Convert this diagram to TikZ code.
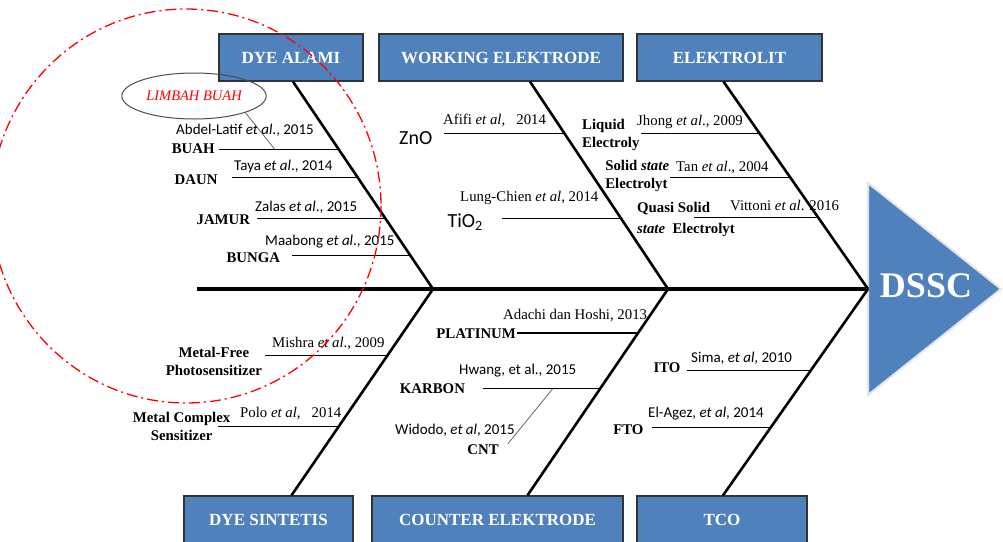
\documentclass[tikz,border=0pt]{standalone}
\usepackage{fontspec}
\setmainfont{Liberation Serif}
\newfontfamily\calib{Carlito}
\usetikzlibrary{positioning,shapes.geometric}
\definecolor{dyeblue}{RGB}{79,129,189}
\newcommand{\etal}{\textit{et al}}

\tikzset{
  catbox/.style={draw=black!80, line width=1.3pt, fill=dyeblue, text=white,
    font=\bfseries\fontsize{17}{19}\selectfont, minimum height=47pt, inner sep=0pt},
  spine/.style={line width=3.2pt},
  bone/.style={line width=2.6pt},
  twig/.style={line width=1.1pt},
  hint/.style={line width=0.8pt, black!60},
  cause/.style={font=\bfseries\fontsize{14.8}{18}\selectfont, inner sep=1pt},
  refserif/.style={font=\fontsize{14.8}{16}\selectfont, inner sep=0pt, anchor=west},
  refsans/.style={font=\calib\fontsize{15}{17}\selectfont, inner sep=0pt, anchor=west},
}

\begin{document}
\begin{tikzpicture}[x=1pt,y=-1pt]
\path[use as bounding box, fill=white] (0,0) rectangle (1003,541);
\clip (0,0) rectangle (1003,541);

% spine and head
\coordinate (tail) at (197,289);
\coordinate (j1) at (433,289);
\coordinate (j2) at (668,289);
\coordinate (head) at (868,289);
\filldraw[fill=dyeblue, draw=black!10, line width=2pt] (868,183) -- (1001,289) -- (868,395) -- cycle;
\node[text=white, font=\bfseries\fontsize{36}{40}\selectfont] (dssc) at (926,286) {DSSC};
\draw[spine] (tail) -- (head);

% categories
\node[catbox, minimum width=144pt] (alami) at (291,57.5) {DYE ALAMI};
\node[catbox, minimum width=244pt] (working) at (501,57.5) {WORKING ELEKTRODE};
\node[catbox, minimum width=185pt] (elektrolit) at (729.5,57.5) {ELEKTROLIT};
\node[catbox, minimum width=169pt] (sintetis) at (268.5,519.5) {DYE SINTETIS};
\node[catbox, minimum width=251pt] (counter) at (497.5,519.5) {COUNTER ELEKTRODE};
\node[catbox, minimum width=170pt] (tco) at (722,519.5) {TCO};

% bones
\draw[bone] ([xshift=2pt]alami.south) -- (j1)
  coordinate[pos=.327] (a1) coordinate[pos=.462] (a2)
  coordinate[pos=.659] (a3) coordinate[pos=.837] (a4);
\draw[bone] ([xshift=29pt]working.south) -- (j2)
  coordinate[pos=.25] (w1) coordinate[pos=.659] (w2);
\draw[bone] ([xshift=-6pt]elektrolit.south) -- (head)
  coordinate[pos=.25] (e1) coordinate[pos=.462] (e2) coordinate[pos=.654] (e3);
\draw[bone] ([xshift=23pt]sintetis.north) -- (j1)
  coordinate[pos=.333] (s2) coordinate[pos=.676] (s1);
\draw[bone] ([xshift=30pt]counter.north) -- (j2)
  coordinate[pos=.517] (c2) coordinate[pos=.787] (c1);
\draw[bone] ([xshift=1pt]tco.north) -- (head)
  coordinate[pos=.3285] (t2) coordinate[pos=.604] (t1);

% dye alami
\draw[twig] (a1) -- ++(-120,0) coordinate[pos=.533] (limb) coordinate (a1s);
\draw[twig] (a2) -- ++(-126,0) coordinate (a2s);
\draw[twig] (a3) -- ++(-128,0) coordinate (a3s);
\draw[twig] (a4) -- ++(-118,0) coordinate (a4s);
\node[cause, left=3pt of a1s, yshift=1pt] (buah) {BUAH};
\node[cause, left=13pt of a2s, yshift=-2pt] (daun) {DAUN};
\node[cause, left=6pt of a3s, yshift=-1pt] (jamur) {JAMUR};
\node[cause, left=11pt of a4s, yshift=-2pt] (bunga) {BUNGA};
\node[refsans] (r1) at (176,130) {Abdel-Latif \etal., 2015};
\node[refsans] (r2) at (234,166) {Taya \etal., 2014};
\node[refsans] (r3) at (255,207) {Zalas \etal., 2015};
\node[refsans] (r4) at (265,242) {Maabong \etal., 2015};
\node[ellipse, draw=black!70, line width=1pt, minimum width=138pt, minimum height=46pt,
  text=red, font=\itshape\fontsize{14.5}{16}\selectfont] (limbah) at (194,96) {LIMBAH BUAH};
\draw[hint] (limbah.south east) -- (limb);

% working elektrode
\draw[twig] (w1) -- ++(-121,0) coordinate (w1s);
\draw[twig] (w2) -- ++(-119,0) coordinate (w2s);
\node[font=\calib\fontsize{20}{22}\selectfont, inner sep=1pt, left=10pt of w1s, yshift=-5pt] (zno) {ZnO};
\node[font=\calib\fontsize{20}{22}\selectfont, inner sep=1pt, left=18pt of w2s, yshift=-4pt] (tio) {TiO\textsubscript{2}};
\node[refserif] (r5) at (443,120) {Afifi \etal,~~ 2014};
\node[refserif] (r6) at (460,198) {Lung-Chien \etal, 2014};

% elektrolit
\draw[twig] (e1) -- ++(-119,0) coordinate (e1s);
\draw[twig] (e2) -- ++(-120,0) coordinate (e2s);
\draw[twig] (e3) -- ++(-124,0) coordinate (e3s);
\node[cause, align=left, left=0pt of e1s, yshift=-1pt] (liquid) {Liquid\\Electroly};
\node[cause, align=left, left=0pt of e2s, yshift=1pt] (solid) {Solid \textit{state}\\Electrolyt};
\node[cause, align=left, anchor=west, xshift=-58pt, yshift=-2pt] (quasi) at (e3s)
  {Quasi Solid\\[3pt]\textit{state}~ Electrolyt};
\node[refserif] (r7) at (637,122) {Jhong \etal., 2009};
\node[refserif] (r8) at (676,167) {Tan \etal., 2004};
\node[refserif] (r9) at (730,205) {Vittoni \etal. 2016};

% dye sintetis
\draw[twig] (s1) -- ++(-122,0) coordinate (s1s);
\draw[twig] (s2) -- ++(-121,0) coordinate (s2s);
\node[cause, align=center, left=2pt of s1s, yshift=-6pt] (mfree) {Metal-Free\\Photosensitizer};
\node[cause, align=center] (mcomp) at ([xshift=-36pt]s2s) {Metal Complex\\Sensitizer};
\node[refserif] (r10) at (272,343) {Mishra \etal., 2009};
\node[refserif] (r11) at (240,413) {Polo \etal,~~ 2014};

% counter elektrode
\draw[twig] (c1) -- ++(-121,0) coordinate (c1s);
\draw[twig] (c2) -- ++(-117,0) coordinate[pos=.405] (carb) coordinate (c2s);
\node[cause, left=0pt of c1s, yshift=-1pt] (platinum) {PLATINUM};
\node[cause, left=17pt of c2s] (karbon) {KARBON};
\node[cause] (cnt) at (483,450) {CNT};
\draw[hint] ([xshift=8pt]cnt.north east) -- (carb);
\node[refserif] (r12) at (503,315) {Adachi dan Hoshi, 2013};
\node[refsans] (r13) at (459,371) {Hwang, et al., 2015};
\node[refsans] (r14) at (395,430) {Widodo, \etal, 2015};

% tco
\draw[twig] (t1) -- ++(-124,0) coordinate (t1s);
\draw[twig] (t2) -- ++(-119,0) coordinate (t2s);
\node[cause, left=5pt of t1s, yshift=3pt] (ito) {ITO};
\node[cause, left=7pt of t2s, yshift=-2pt] (fto) {FTO};
\node[refsans] (r15) at (691,358) {Sima, \etal, 2010};
\node[refsans] (r16) at (648,414) {El-Agez, \etal, 2014};

% focus on natural dyes
\draw[red, line width=1.3pt, dash pattern=on 11pt off 4pt on 2pt off 4pt]
  (186,206) ellipse [x radius=195, y radius=197];
\end{tikzpicture}
\end{document}
